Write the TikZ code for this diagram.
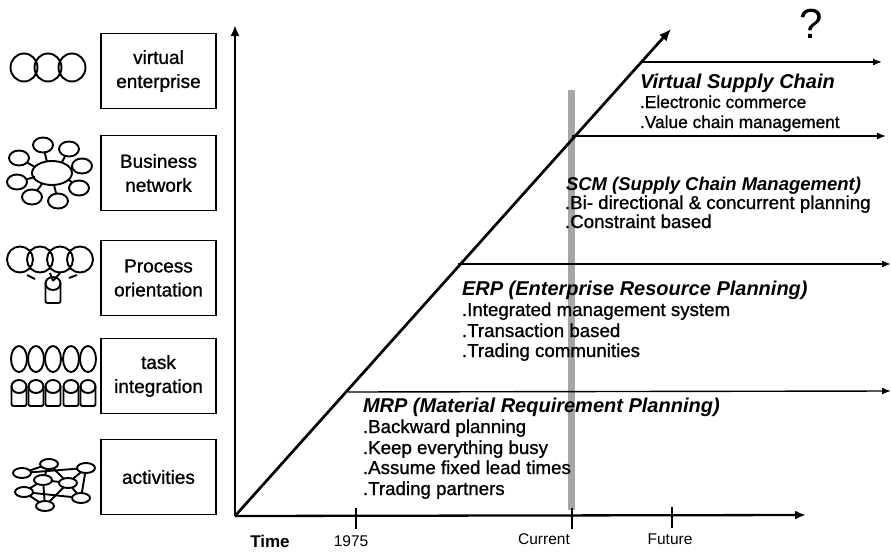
\documentclass[tikz,border=0pt]{standalone}
\usepackage{fontspec}
\setmainfont{Liberation Sans}
\newfontfamily\scanfont[FakeBold=1]{Liberation Sans}
\usetikzlibrary{arrows.meta}
\tikzset{
  every node/.style={inner sep=0pt,outer sep=0pt,text=black},
  levelbox/.style={draw=black,line width=1.3pt,minimum width=115pt,minimum height=75pt,align=center,font=\fontsize{19}{24}\selectfont\scanfont},
  axisline/.style={line width=2.3pt,-{Latex[length=11pt,width=9pt]}},
  growline/.style={line width=2.7pt,-{Latex[length=12pt,width=10pt]}},
  levelline/.style={line width=1.4pt,-{Latex[length=9pt,width=7pt]}},
  tickline/.style={line width=1.1pt},
  heading/.style={anchor=base west,font=\fontsize{20}{22}\selectfont\bfseries\itshape},
  item/.style={anchor=base west,font=\fontsize{18.7}{20}\selectfont\scanfont},
  smallitem/.style={anchor=base west,font=\fontsize{17.3}{20}\selectfont\scanfont},
  ticklabel/.style={anchor=base,font=\fontsize{15.5}{18}\selectfont},
  icon/.style={draw=black,line width=1.9pt,fill=none},
  iconline/.style={draw=black,line width=1.9pt},
}
\newcommand{\cyl}[2]{%
  \draw[icon,rounded corners=2pt] (#1-7.5,#2-7) -- (#1-7.5,#2+13) -- (#1+7.5,#2+13) -- (#1+7.5,#2-7);
  \draw[icon] (#1,#2-6.5) ellipse (7.5pt and 6.5pt);
}
\begin{document}
\begin{tikzpicture}[x=1pt,y=-1pt]
\useasboundingbox (0,0) rectangle (891,554);
% grey current band
\fill[black!35] (568,90) rectangle (575,510);
% boxes
\node[levelbox] (b1) at (158.5,71) {virtual\\enterprise};
\node[levelbox] (b2) at (158.5,173) {Business\\network};
\node[levelbox] (b3) at (158.5,278) {Process\\orientation};
\node[levelbox] (b4) at (158.5,376) {task\\integration};
\node[levelbox] (b5) at (158.5,477) {activities};
% axes
\coordinate (o) at (235,516);
\coordinate (ytop) at (235,25);
\coordinate (xend) at (806,515);
\coordinate (gtop) at (671,29);
\draw[axisline] (o) -- (ytop);
\draw[axisline] (o) -- (xend);
\draw[growline] (o) -- (gtop);
% level lines
\coordinate (l1s) at (642,62); \coordinate (l1e) at (882,62);
\coordinate (l2s) at (572,136); \coordinate (l2e) at (886,136);
\coordinate (l3s) at (458,264); \coordinate (l3e) at (891,264);
\coordinate (l4s) at (348,392); \coordinate (l4e) at (891,391);
\draw[levelline] (l1s) -- (l1e);
\draw[levelline] (l2s) -- (l2e);
\draw[levelline] (l3s) -- (l3e);
\draw[levelline] (l4s) -- (l4e);
% ticks
\coordinate (t1a) at (356,508); \coordinate (t1b) at (356,529);
\coordinate (t2a) at (572,508); \coordinate (t2b) at (572,529);
\coordinate (t3a) at (672,507); \coordinate (t3b) at (672,528);
\draw[tickline] (t1a) -- (t1b);
\draw[tickline] (t2a) -- (t2b);
\draw[tickline] (t3a) -- (t3b);
% labels
\node[anchor=base,font=\fontsize{17}{20}\selectfont\bfseries] (time) at (270,547) {Time};
\node[ticklabel] (y1975) at (351,546) {1975};
\node[ticklabel] (ycur) at (544,544) {Current};
\node[ticklabel] (yfut) at (670,544) {Future};
\node[anchor=base,font=\fontsize{42}{44}\selectfont] (q) at (811,38) {?};
% texts
\node[heading] (h1) at (640,88) {Virtual Supply Chain};
\node[smallitem] (i11) at (640,108) {.Electronic commerce};
\node[smallitem] (i12) at (640,128) {.Value chain management};
\node[heading,font=\fontsize{18.5}{22}\selectfont\bfseries\itshape] (h2) at (566,190) {SCM (Supply Chain Management)};
\node[item] (i21) at (565,209) {.Bi- directional \& concurrent planning};
\node[item] (i22) at (565,228) {.Constraint based};
\node[heading] (h3) at (462,295) {ERP (Enterprise Resource Planning)};
\node[item] (i31) at (462,316) {.Integrated management system};
\node[item] (i32) at (462,337) {.Transaction based};
\node[item] (i33) at (462,357) {.Trading communities};
\node[heading] (h4) at (363,412) {MRP (Material Requirement Planning)};
\node[item] (i41) at (363,433) {.Backward planning};
\node[item] (i42) at (363,454) {.Keep everything busy};
\node[item] (i43) at (363,474) {.Assume fixed lead times};
\node[item] (i44) at (363,495) {.Trading partners};
% icon 1
\foreach \x in {24,48,72} \draw[icon] (\x,67.5) ellipse (13.5pt and 14pt);
% icon 2
\draw[icon] (52,173) ellipse (20pt and 12pt);
\foreach \x/\y/\tx/\ty in {43/145/47/162,69/149/62/162,82/166/71/168,79/188/69/180,58/201/54/185,32/197/42/184,17/182/35/177,19/158/35/167}{
  \draw[iconline] (\tx,\ty) -- (\x,\y);
  \draw[icon,fill=white] (\x,\y) ellipse (10pt and 7.5pt);
}
% icon 3
\foreach \x in {20,40,60,80} \draw[icon] (\x,259.5) ellipse (13pt and 13pt);
\draw[iconline] (27,275) -- (35,279);
\draw[iconline] (50,273) -- (53,281);
\draw[iconline] (60,273) -- (53,281);
\draw[iconline] (77,275) -- (69,278);
\cyl{53}{290}
% icon 4
\foreach \x in {19,36,53,71,88} {
  \draw[icon] (\x,359) ellipse (8pt and 13pt);
  \cyl{\x}{393}
}
% icon 5
\foreach \ax/\ay/\bx/\by in {22/473/49/464,22/473/86/468,49/464/68/483,86/468/68/483,86/468/81/498,43/480/49/464,43/480/68/483,43/480/45/506,24/492/43/480,24/492/81/498,68/483/81/498,45/506/24/492,45/506/68/483}{
  \draw[iconline] (\ax,\ay) -- (\bx,\by);
}
\foreach \x/\y in {22/473,49/464,86/468,43/480,68/483,24/492,81/498,45/506}{
  \draw[icon,fill=white] (\x,\y) ellipse (9pt and 5pt);
}
\end{tikzpicture}
\end{document}
